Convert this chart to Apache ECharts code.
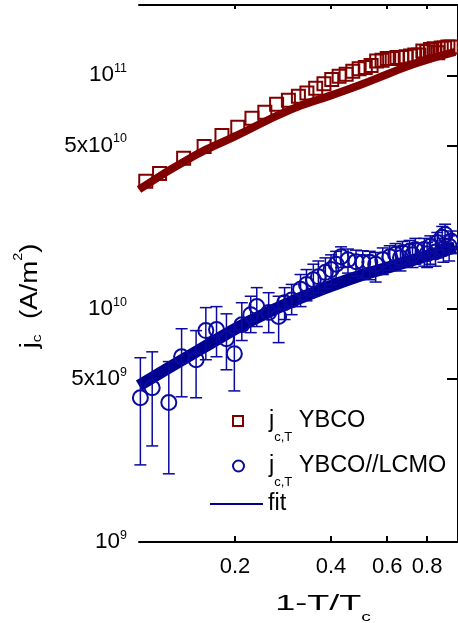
<!DOCTYPE html>
<html>
<head>
<meta charset="utf-8">
<script src="https://cdn.jsdelivr.net/npm/echarts@6/dist/echarts.min.js"></script>
<style>
    html, body { margin: 0; padding: 0; background: #fff; }
    #chart_jc { width: 458px; height: 623px; }
</style>
</head>
<body>
<div id="chart_jc"></div>
<script>
// tick values (real units)
var xTicks = [0.2, 0.4, 0.6, 0.8];
var yTicks = [1e9, 5e9, 1e10, 5e10, 1e11];
var xMin = 0.1, xMax = 1.0, yMin = 1e9, yMax = 2e11;

// j_c,T YBCO (squares)
var ybcoT = [0.105, 0.116, 0.138, 0.160, 0.182, 0.204, 0.226, 0.248, 0.270, 0.294,
    0.316, 0.336, 0.358, 0.380, 0.402, 0.424, 0.446, 0.468, 0.490, 0.512,
    0.534, 0.556, 0.578, 0.600, 0.622, 0.644, 0.666, 0.688, 0.710, 0.732,
    0.754, 0.776, 0.798, 0.820, 0.842, 0.864, 0.886, 0.908, 0.930, 0.952];
var ybcoJ = [3.51e10, 3.79e10, 4.41e10, 4.95e10, 5.52e10, 5.98e10, 6.54e10, 6.94e10, 7.51e10, 7.81e10,
    8.13e10, 8.4e10, 8.8e10, 9.2e10, 9.6e10, 9.9e10, 1.01e11, 1.04e11, 1.066e11, 1.08e11,
    1.10e11, 1.15e11, 1.16e11, 1.18e11, 1.18e11, 1.19e11, 1.19e11, 1.20e11, 1.21e11, 1.22e11,
    1.22e11, 1.27e11, 1.26e11, 1.29e11, 1.30e11, 1.25e11, 1.31e11, 1.31e11, 1.32e11, 1.32e11];

// j_c,T YBCO//LCMO (circles) with error bars
var lcmoT = [0.101, 0.110, 0.124, 0.136, 0.151, 0.162, 0.175, 0.188, 0.199, 0.210,
    0.224, 0.234, 0.255, 0.274, 0.286, 0.301, 0.321, 0.335, 0.352, 0.365,
    0.384, 0.400, 0.415, 0.430, 0.452, 0.479, 0.503, 0.529, 0.552, 0.581,
    0.611, 0.637, 0.660, 0.670, 0.705, 0.720, 0.735, 0.784, 0.800, 0.819,
    0.850, 0.861, 0.892, 0.900, 0.911, 0.938, 0.950];
var lcmoJ = [4.15e9, 4.58e9, 3.96e9, 6.22e9, 6.04e9, 8.05e9, 8.13e9, 7.43e9, 6.41e9, 8.53e9,
    9.42e9, 1.02e10, 9.62e9, 9.25e9, 1.06e10, 1.09e10, 1.21e10, 1.27e10, 1.33e10, 1.37e10,
    1.43e10, 1.47e10, 1.55e10, 1.67e10, 1.62e10, 1.59e10, 1.58e10, 1.58e10, 1.55e10, 1.62e10,
    1.67e10, 1.71e10, 1.65e10, 1.74e10, 1.76e10, 1.70e10, 1.79e10, 1.79e10, 1.72e10, 1.85e10,
    1.75e10, 1.92e10, 2.02e10, 1.80e10, 2.08e10, 1.85e10, 1.95e10];
var lcmoLo = [2.14e9, 2.58e9, 1.96e9, 4.19e9, 4.15e9, 6.04e9, 6.22e9, 5.47e9, 4.44e9, 7.3e9,
    7.89e9, 8.38e9, 7.89e9, 7.15e9, 8.98e9, 9.42e9, 1.02e10, 1.08e10, 1.13e10, 1.17e10,
    1.22e10, 1.27e10, 1.35e10, 1.50e10, 1.42e10, 1.38e10, 1.35e10, 1.33e10, 1.30e10, 1.40e10,
    1.46e10, 1.50e10, 1.45e10, 1.52e10, 1.55e10, 1.50e10, 1.55e10, 1.52e10, 1.50e10, 1.55e10,
    1.52e10, 1.65e10, 1.78e10, 1.58e10, 1.85e10, 1.60e10, 1.72e10];
var lcmoHi = [6.16e9, 6.53e9, 5.93e9, 8.2e9, 8.05e9, 1.01e10, 1.02e10, 9.5e9, 8.13e9, 1.06e10,
    1.13e10, 1.23e10, 1.17e10, 1.13e10, 1.23e10, 1.27e10, 1.40e10, 1.47e10, 1.55e10, 1.60e10,
    1.65e10, 1.70e10, 1.76e10, 1.84e10, 1.80e10, 1.78e10, 1.77e10, 1.76e10, 1.74e10, 1.82e10,
    1.86e10, 1.90e10, 1.85e10, 1.94e10, 1.96e10, 1.90e10, 2.0e10, 2.0e10, 1.92e10, 2.05e10,
    1.95e10, 2.12e10, 2.25e10, 2.0e10, 2.3e10, 2.05e10, 2.15e10];

// fit curves
var fitRT = [0.100, 0.150, 0.200, 0.300, 0.400, 0.500, 0.600, 0.744, 0.980];
var fitRJ = [3.24e10, 4.54e10, 5.47e10, 7.14e10, 8.2e10, 9.15e10, 1.01e11, 1.13e11, 1.26e11];
var fitBT = [0.100, 0.155, 0.221, 0.310, 0.452, 0.646, 0.980];
var fitBJ = [4.68e9, 6.67e9, 8.79e9, 1.09e10, 1.33e10, 1.54e10, 1.83e10];

var red = '#800000';
var blue = '#0a0aa0';
var blueLine = '#000090';
var fontFam = 'Liberation Sans, Arial, sans-serif';

function lg(v) {
    return Math.log(v) / Math.LN10;
}
function pairs(xs, ys) {
    var out = [];
    for (var i = 0; i < xs.length; i++) {
        out.push([lg(xs[i]), lg(ys[i])]);
    }
    return out;
}
function errData() {
    var out = [];
    for (var i = 0; i < lcmoT.length; i++) {
        out.push([lg(lcmoT[i]), lg(lcmoLo[i]), lg(lcmoHi[i])]);
    }
    return out;
}
function logList(arr) {
    return arr.map(function (v) { return lg(v); });
}

function yLabel(v) {
    var e = Math.floor(v + 1e-6);
    var m = Math.round(Math.pow(10, v - e));
    if (m > 1) {
        return '{b|' + m + 'x10}{sup|' + e + '}';
    }
    return '{b|10}{sup|' + e + '}';
}
function xLabel(v) {
    return (Math.round(Math.pow(10, v) * 10) / 10).toString();
}

function renderErr(params, api) {
    var x = api.value(0);
    var p1 = api.coord([x, api.value(1)]);
    var p2 = api.coord([x, api.value(2)]);
    var w = 6;
    var st = { stroke: blue, lineWidth: 1.5 };
    return {
        type: 'group',
        children: [
            { type: 'line', shape: { x1: p1[0], y1: p1[1], x2: p2[0], y2: p2[1] }, style: st },
            { type: 'line', shape: { x1: p1[0] - w, y1: p1[1], x2: p1[0] + w, y2: p1[1] }, style: st },
            { type: 'line', shape: { x1: p2[0] - w, y1: p2[1], x2: p2[0] + w, y2: p2[1] }, style: st }
        ]
    };
}

var legendRich = {
    m: { fontSize: 23.5, fontFamily: fontFam, color: '#000' },
    j1: { fontSize: 23.5, fontFamily: fontFam, color: '#000', padding: [0, 0, 0, 21] },
    j2: { fontSize: 23.5, fontFamily: fontFam, color: '#000', padding: [0, 0, 0, 20] },
    s: { fontSize: 13, fontFamily: fontFam, color: '#000', padding: [33, 0, 0, 0] }
};
var legendNames = {
    'YBCO': '{j1|j}{s|c,T}{m| YBCO}',
    'YBCO//LCMO': '{j2|j}{s|c,T}{m| YBCO//LCMO}',
    'fit': '{m|fit}'
};
function legendFmt(name) {
    return legendNames[name];
}

var chart_jc = echarts.init(document.getElementById('chart_jc'));

var option = {
    animation: false,
    backgroundColor: '#fff',
    grid: { left: 139, top: 5, width: 322, height: 537 },
    xAxis: [
        {
            type: 'value',
            min: lg(xMin),
            max: lg(xMax),
            position: 'bottom',
            axisLine: { lineStyle: { color: '#000', width: 2 } },
            axisTick: { inside: true, length: 6, lineStyle: { color: '#000', width: 2 }, customValues: logList(xTicks) },
            axisLabel: {
                customValues: logList(xTicks),
                formatter: xLabel,
                margin: 14,
                fontSize: 22,
                fontFamily: fontFam,
                color: '#000'
            },
            splitLine: { show: false }
        },
        {
            type: 'value',
            min: lg(xMin),
            max: lg(xMax),
            position: 'top',
            axisLine: { lineStyle: { color: '#000', width: 2 } },
            axisTick: { inside: true, length: 4, lineStyle: { color: '#000', width: 2 }, customValues: logList(xTicks) },
            axisLabel: { show: false },
            splitLine: { show: false }
        }
    ],
    yAxis: [
        {
            type: 'value',
            min: lg(yMin),
            max: lg(yMax),
            position: 'left',
            axisLine: { lineStyle: { color: '#000', width: 2 } },
            axisTick: { inside: true, length: 12, lineStyle: { color: '#000', width: 2 }, customValues: logList(yTicks) },
            axisLabel: {
                customValues: logList(yTicks),
                formatter: yLabel,
                margin: 12,
                rich: {
                    b: { fontSize: 22.5, fontFamily: fontFam, color: '#000' },
                    sup: { fontSize: 12.5, fontFamily: fontFam, color: '#000', padding: [0, 0, 13, 0] }
                }
            },
            splitLine: { show: false }
        },
        {
            type: 'value',
            min: lg(yMin),
            max: lg(yMax),
            position: 'right',
            axisLine: { lineStyle: { color: '#000', width: 2 } },
            axisTick: { inside: true, length: 11, lineStyle: { color: '#000', width: 2 }, customValues: logList(yTicks) },
            axisLabel: { show: false },
            splitLine: { show: false }
        }
    ],
    legend: [
        {
            data: ['YBCO'],
            left: 232, top: 409, padding: 0,
            itemWidth: 10, itemHeight: 10, itemGap: 0,
            icon: 'rect',
            itemStyle: { color: 'rgba(0,0,0,0)', borderColor: red, borderWidth: 2 },
            formatter: legendFmt,
            textStyle: { rich: legendRich }
        },
        {
            data: ['YBCO//LCMO'],
            left: 232, top: 454, padding: 0,
            itemWidth: 11, itemHeight: 11, itemGap: 0,
            icon: 'circle',
            itemStyle: { color: 'rgba(0,0,0,0)', borderColor: blue, borderWidth: 2 },
            formatter: legendFmt,
            textStyle: { rich: legendRich }
        },
        {
            data: ['fit'],
            left: 210, top: 492, padding: 0,
            itemWidth: 53, itemHeight: 2, itemGap: 0,
            icon: 'rect',
            itemStyle: { color: blueLine, borderWidth: 0 },
            formatter: legendFmt,
            textStyle: { rich: legendRich, lineHeight: 24 }
        }
    ],
    graphic: [
        {
            type: 'text',
            x: 31, y: 296,
            rotation: Math.PI / 2,
            scaleX: 1.2,
            style: {
                text: '{m|j}{s|c}{m|  (A/m}{p|2}{m|)}',
                align: 'center',
                verticalAlign: 'middle',
                rich: {
                    m: { fontSize: 23, fontFamily: fontFam, fill: '#000' },
                    s: { fontSize: 13, fontFamily: fontFam, fill: '#000', padding: [13, 0, 0, 0] },
                    p: { fontSize: 12, fontFamily: fontFam, fill: '#000', padding: [0, 0, 25, 0] }
                }
            }
        },
        {
            type: 'text',
            x: 323, y: 604,
            scaleX: 1.6,
            style: {
                text: '{m|1-T/T}{s|c}',
                align: 'center',
                verticalAlign: 'middle',
                rich: {
                    m: { fontSize: 22.5, fontFamily: fontFam, fill: '#000' },
                    s: { fontSize: 12, fontFamily: fontFam, fill: '#000', padding: [28, 0, 0, 0] }
                }
            }
        }
    ],
    series: [
        {
            name: 'YBCO',
            type: 'scatter',
            symbol: 'rect',
            symbolSize: 13,
            itemStyle: { color: 'rgba(0,0,0,0)', borderColor: red, borderWidth: 2, opacity: 1 },
            data: pairs(ybcoT, ybcoJ),
            z: 2
        },
        {
            name: 'fitYBCO',
            type: 'line',
            smooth: true,
            symbol: 'none',
            lineStyle: { color: red, width: 8 },
            itemStyle: { color: red },
            data: pairs(fitRT, fitRJ),
            z: 3
        },
        {
            name: 'fit',
            type: 'line',
            smooth: true,
            symbol: 'none',
            lineStyle: { color: blueLine, width: 12 },
            itemStyle: { color: blueLine },
            data: pairs(fitBT, fitBJ),
            z: 2
        },
        {
            name: 'YBCO//LCMO',
            type: 'scatter',
            symbol: 'circle',
            symbolSize: 15,
            itemStyle: { color: 'rgba(0,0,0,0)', borderColor: blue, borderWidth: 2, opacity: 1 },
            data: pairs(lcmoT, lcmoJ),
            z: 4
        },
        {
            name: 'errLCMO',
            type: 'custom',
            renderItem: renderErr,
            encode: { x: 0, y: [1, 2] },
            data: errData(),
            z: 3
        }
    ]
};
chart_jc.setOption(option);
</script>
</body>
</html>
